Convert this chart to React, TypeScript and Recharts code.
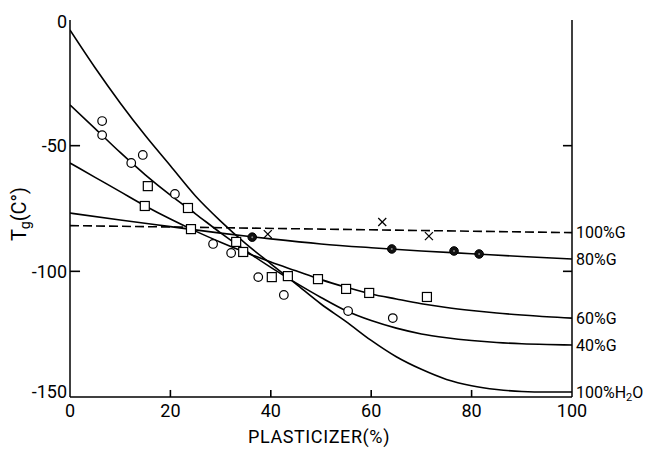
import React from 'react';
import { ComposedChart, Line, Scatter, XAxis, YAxis, ReferenceLine } from 'recharts';

const FONT = 'Roboto, "DejaVu Sans", sans-serif';

const xTicks = [0, 20, 40, 60, 80, 100];
const yTicks = [0, -50, -100, -150];
const rightTicks = [-50, -100];
const innerXTicks = [20, 40, 60, 80];

const curveH2O = [
  { x: 0, y: -4 }, { x: 5, y: -19 }, { x: 10, y: -33 }, { x: 15, y: -46 }, { x: 20, y: -58 },
  { x: 25, y: -70 }, { x: 30, y: -80 }, { x: 35, y: -89 }, { x: 40, y: -97 }, { x: 45, y: -105 },
  { x: 50, y: -113 }, { x: 55, y: -120 }, { x: 60, y: -127.5 }, { x: 65, y: -134 }, { x: 70, y: -139 },
  { x: 75, y: -143 }, { x: 80, y: -145.5 }, { x: 85, y: -147 }, { x: 90, y: -147.8 }, { x: 95, y: -148 },
  { x: 100, y: -148 },
];
const curve40G = [
  { x: 0, y: -33.8 }, { x: 5, y: -43.2 }, { x: 10, y: -52.7 }, { x: 15, y: -61.6 }, { x: 20, y: -69.7 },
  { x: 25, y: -77.1 }, { x: 30, y: -84.7 }, { x: 35, y: -91.8 }, { x: 40, y: -98.4 }, { x: 45, y: -104.6 },
  { x: 50, y: -110.4 }, { x: 55, y: -115.7 }, { x: 60, y: -119.6 }, { x: 65, y: -122.6 }, { x: 70, y: -124.9 },
  { x: 75, y: -126.4 }, { x: 80, y: -127.5 }, { x: 85, y: -128.3 }, { x: 90, y: -128.8 }, { x: 95, y: -129.1 },
  { x: 100, y: -129.3 },
];
const curve60G = [
  { x: 0, y: -56.9 }, { x: 5, y: -62.6 }, { x: 10, y: -68.3 }, { x: 15, y: -74 }, { x: 20, y: -79.2 },
  { x: 25, y: -84 }, { x: 30, y: -88.4 }, { x: 35, y: -92.5 }, { x: 40, y: -96.3 }, { x: 45, y: -99.8 },
  { x: 50, y: -103.3 }, { x: 55, y: -106.3 }, { x: 60, y: -109 }, { x: 65, y: -111 }, { x: 70, y: -112.9 },
  { x: 75, y: -114.4 }, { x: 80, y: -115.6 }, { x: 85, y: -116.6 }, { x: 90, y: -117.4 }, { x: 95, y: -118.1 },
  { x: 100, y: -118.6 },
];
const curve80G = [
  { x: 0, y: -76.8 }, { x: 10, y: -79.6 }, { x: 20, y: -82.2 }, { x: 30, y: -84.8 }, { x: 40, y: -87.1 },
  { x: 50, y: -89.1 }, { x: 60, y: -90.6 }, { x: 70, y: -91.9 }, { x: 80, y: -93 }, { x: 90, y: -94.1 },
  { x: 100, y: -95.1 },
];
const curve100G = [
  { x: 0, y: -81.8 }, { x: 50, y: -83.2 }, { x: 100, y: -84.6 },
];

const openCircles = [
  { x: 6.4, y: -40.2 }, { x: 6.4, y: -45.8 }, { x: 12.2, y: -56.9 }, { x: 14.5, y: -53.7 },
  { x: 20.9, y: -69.2 }, { x: 28.5, y: -89.1 }, { x: 32.1, y: -92.7 }, { x: 37.5, y: -102.3 },
  { x: 42.6, y: -109.4 }, { x: 55.4, y: -115.8 }, { x: 64.3, y: -118.6 },
];
const squares = [
  { x: 15.5, y: -66.1 }, { x: 14.9, y: -74.0 }, { x: 23.5, y: -74.8 }, { x: 24.1, y: -83.2 },
  { x: 33.1, y: -88.3 }, { x: 34.5, y: -92.3 }, { x: 40.2, y: -102.3 }, { x: 43.4, y: -101.9 },
  { x: 49.4, y: -103.1 }, { x: 55.0, y: -107.0 }, { x: 59.6, y: -108.6 }, { x: 71.1, y: -110.2 },
];
const crosses = [
  { x: 39.4, y: -85.2 }, { x: 62.2, y: -80.4 }, { x: 71.5, y: -86.0 },
];
const filledCircles = [
  { x: 36.3, y: -86.4 }, { x: 64.1, y: -91.1 }, { x: 76.5, y: -91.9 }, { x: 81.5, y: -93.1 },
];

// plot box edges in px (layout)
const PLOT_LEFT = 70;
const PLOT_BOTTOM = 397;
// inward tick lengths, in axis units
const TICK_X_LEN = 2;
const TICK_Y_LEN = 2.8;

const endLabel = (text: React.ReactNode, last: number) => (props: any) => {
  const { x, y, index } = props;
  if (index !== last) return null;
  return (
    <text x={x + 4} y={y} dy="0.35em" fontFamily={FONT} fontSize={16} style={{ fill: '#000' }} textAnchor="start">
      {text}
    </text>
  );
};

const LeftTick = (props: any) => {
  const { y, payload } = props;
  const shift = payload.value === -150 ? -5 : payload.value === 0 ? 2 : 0;
  return (
    <text x={PLOT_LEFT - 3} y={y + shift} dy="0.35em" textAnchor="end" fontFamily={FONT} fontSize={18} style={{ fill: '#000' }}>
      {payload.value === 0 ? '0' : '-' + Math.abs(payload.value)}
    </text>
  );
};

const EmptyTick = () => <g />;

const BottomTick = (props: any) => {
  const { x, payload } = props;
  return (
    <text x={x} y={PLOT_BOTTOM + 14} dy="0.35em" textAnchor="middle" fontFamily={FONT} fontSize={18} style={{ fill: '#000' }}>
      {payload.value}
    </text>
  );
};

const xLabel = () => (
  <text x={319} y={437} dy="0.35em" textAnchor="middle" fontFamily={FONT} fontSize={18} letterSpacing={0.6} style={{ fill: '#000' }}>
    PLASTICIZER(%)
  </text>
);

const yLabel = () => (
  <text x={19} y={214} transform="rotate(-90 19 214)" dy="0.35em" textAnchor="middle" fontFamily={FONT} fontSize={20} fill="#000" style={{ fill: '#000' }}>
    T<tspan fontSize={14} dy={4}>g</tspan><tspan dy={-4}>(C°)</tspan>
  </text>
);

const circleShape = (p: any) => (
  <circle cx={p.cx} cy={p.cy} r={4.3} fill="#fff" stroke="#000" strokeWidth={1.2} />
);
const squareShape = (p: any) => (
  <rect x={p.cx - 4.5} y={p.cy - 4.5} width={9} height={9} fill="#fff" stroke="#000" strokeWidth={1.2} />
);
const crossShape = (p: any) => (
  <g stroke="#000" strokeWidth={1.3}>
    <line x1={p.cx - 4} y1={p.cy - 4} x2={p.cx + 4} y2={p.cy + 4} />
    <line x1={p.cx - 4} y1={p.cy + 4} x2={p.cx + 4} y2={p.cy - 4} />
  </g>
);
const filledShape = (p: any) => (
  <g>
    <circle cx={p.cx} cy={p.cy} r={4.3} fill="#111" stroke="#000" strokeWidth={1} />
    <circle cx={p.cx} cy={p.cy} r={1} fill="#888" />
  </g>
);

const axisLineStyle = { stroke: '#000', strokeWidth: 1.5 };

export default function App() {
  return (
    <div style={{ position: 'absolute', left: 0, top: 0, background: '#fff' }}>
      <ComposedChart width={649} height={450} margin={{ top: 20, right: 0, bottom: 8, left: 10 }}>
        <XAxis
          dataKey="x"
          type="number"
          domain={[0, 100]}
          ticks={xTicks}
          tick={BottomTick}
          tickLine={false}
          height={45}
          axisLine={axisLineStyle}
          label={xLabel}
          allowDataOverflow
        />
        <XAxis
          xAxisId="top"
          orientation="top"
          type="number"
          domain={[0, 100]}
          tick={false}
          tickLine={false}
          height={0}
          axisLine={axisLineStyle}
        />
        <YAxis
          dataKey="y"
          type="number"
          domain={[-150, 0]}
          ticks={yTicks}
          tick={LeftTick}
          tickLine={false}
          width={60}
          axisLine={axisLineStyle}
          label={yLabel}
          allowDataOverflow
        />
        <YAxis
          yAxisId="r"
          orientation="right"
          type="number"
          domain={[-150, 0]}
          ticks={rightTicks}
          tick={EmptyTick}
          tickLine={false}
          width={77}
          axisLine={axisLineStyle}
        />
        {yTicks.slice(1, 3).map((t) => (
          <ReferenceLine key={'l' + t} segment={[{ x: 0, y: t }, { x: TICK_X_LEN, y: t }]} stroke="#000" strokeWidth={1.6} ifOverflow="visible" />
        ))}
        {rightTicks.map((t) => (
          <ReferenceLine key={'r' + t} segment={[{ x: 100, y: t }, { x: 100 - TICK_X_LEN * 0.9, y: t }]} stroke="#000" strokeWidth={1.6} ifOverflow="visible" />
        ))}
        {innerXTicks.map((t) => (
          <ReferenceLine key={'b' + t} segment={[{ x: t, y: -150 }, { x: t, y: -150 + TICK_Y_LEN }]} stroke="#000" strokeWidth={1.6} ifOverflow="visible" />
        ))}
        <Line data={curve100G} dataKey="y" type="linear" stroke="#000" strokeWidth={1.6} strokeDasharray="9 4" dot={false} isAnimationActive={false} label={endLabel('100%G', curve100G.length - 1)} />
        <Line data={curve80G} dataKey="y" type="monotone" stroke="#000" strokeWidth={1.6} dot={false} isAnimationActive={false} label={endLabel('80%G', curve80G.length - 1)} />
        <Line data={curve60G} dataKey="y" type="monotone" stroke="#000" strokeWidth={1.6} dot={false} isAnimationActive={false} label={endLabel('60%G', curve60G.length - 1)} />
        <Line data={curve40G} dataKey="y" type="monotone" stroke="#000" strokeWidth={1.6} dot={false} isAnimationActive={false} label={endLabel('40%G', curve40G.length - 1)} />
        <Line data={curveH2O} dataKey="y" type="monotone" stroke="#000" strokeWidth={1.6} dot={false} isAnimationActive={false} label={endLabel(<>100%H<tspan fontSize={11} dy={3}>2</tspan><tspan dy={-3}>O</tspan></>, curveH2O.length - 1)} />
        <Scatter data={openCircles} dataKey="y" shape={circleShape} isAnimationActive={false} />
        <Scatter data={squares} dataKey="y" shape={squareShape} isAnimationActive={false} />
        <Scatter data={crosses} dataKey="y" shape={crossShape} isAnimationActive={false} />
        <Scatter data={filledCircles} dataKey="y" shape={filledShape} isAnimationActive={false} />
      </ComposedChart>
    </div>
  );
}
